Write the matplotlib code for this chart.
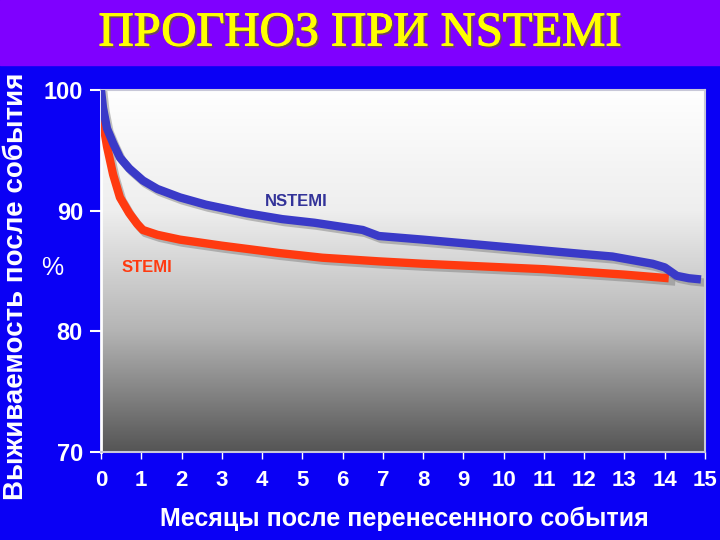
import numpy as np
import matplotlib
matplotlib.use("Agg")
import matplotlib.pyplot as plt
import matplotlib.patheffects as pe
from matplotlib.patches import Rectangle

# survival curves (months, %)
nstemi_months = [0, 0.05, 0.15, 0.3, 0.47, 0.7, 1.04, 1.4, 1.96, 2.6, 3.6, 4.5, 5.3, 6.1, 6.5, 6.9, 8, 9, 10, 11, 12, 12.7, 13.2, 13.7, 14.0, 14.3, 14.6, 14.9]
nstemi_surv = [100, 98.5, 96.8, 95.6, 94.4, 93.5, 92.5, 91.8, 91.1, 90.5, 89.8, 89.3, 89.0, 88.6, 88.4, 87.9, 87.6, 87.3, 87.0, 86.7, 86.4, 86.2, 85.9, 85.6, 85.3, 84.6, 84.4, 84.3]
stemi_months = [0, 0.05, 0.15, 0.3, 0.47, 0.7, 0.9, 1.04, 1.4, 1.96, 3.0, 4.4, 5.5, 6.9, 8, 9, 10, 11, 11.9, 13, 14.1]
stemi_surv = [98.5, 97.3, 95.3, 93.0, 91.1, 89.8, 88.9, 88.4, 88.0, 87.6, 87.1, 86.5, 86.1, 85.8, 85.6, 85.45, 85.3, 85.15, 84.95, 84.7, 84.4]

x_ticks = list(range(0, 16))
y_ticks = [70, 80, 90, 100]

fig = plt.figure(figsize=(7.2, 5.4), dpi=100)
fig.patches.append(Rectangle((0, 0), 1, 1, transform=fig.transFigure, color="#0a00f5", zorder=-10))
fig.patches.append(Rectangle((0, 1 - 65 / 540), 1, 65 / 540, transform=fig.transFigure, color="#7f00ff", zorder=-9))

sans = ["Liberation Sans", "DejaVu Sans"]

# title, yellow serif with a soft shadow
fig.text(0.5, 0.938, "ПРОГНОЗ ПРИ NSTEMI", ha="center", va="center", fontsize=35,
         family=["Liberation Serif", "DejaVu Serif"], color="#ffff00",
         path_effects=[pe.withSimplePatchShadow(offset=(1.5, -1.5), shadow_rgbFace="#6a5a30", alpha=0.8),
                       pe.withStroke(linewidth=0.8, foreground="#ffff00")])

ax = fig.add_axes([101 / 720, 1 - 452 / 540, 604 / 720, 362 / 540])
ax.set_xlim(0, 15)
ax.set_ylim(70, 100)

grad = np.linspace(0, 1, 256).reshape(-1, 1)
cmap = matplotlib.colors.LinearSegmentedColormap.from_list("bg", ["#ffffff", "#eeeeee", "#b4b4b4", "#555555"])
ax.imshow(grad, cmap=cmap, extent=[0, 15, 70, 100], aspect="auto", zorder=0)

# shadows then curves
ax.plot(np.array(nstemi_months) + 0.06, np.array(nstemi_surv) - 0.25, color="#777777", lw=6, alpha=0.45, zorder=2)
ax.plot(np.array(stemi_months) + 0.06, np.array(stemi_surv) - 0.25, color="#777777", lw=6, alpha=0.45, zorder=2)
ax.plot(stemi_months, stemi_surv, color="#ff3a10", lw=6, solid_capstyle="butt", zorder=3)
ax.plot(nstemi_months, nstemi_surv, color="#3a3ac8", lw=6, solid_capstyle="butt", zorder=4)

ax.text(4.07, 90.8, "NSTEMI", color="#333399", fontsize=12, weight="bold", family=sans, va="center")
ax.text(0.52, 85.3, "STEMI", color="#ff3a10", fontsize=12, weight="bold", family=sans, va="center")

ax.set_xticks(x_ticks)
ax.set_yticks(y_ticks)
ax.set_xticklabels([str(t) for t in x_ticks])
ax.tick_params(axis="x", colors="white", length=5, width=1, pad=8, labelsize=16)
ax.tick_params(axis="y", colors="white", length=8, width=1.5, pad=5, labelsize=17)
for lab in ax.get_xticklabels() + ax.get_yticklabels():
    lab.set_family(sans)
    lab.set_weight("bold")

for side in ["top", "right", "bottom"]:
    ax.spines[side].set_color("#c8c8d8")
    ax.spines[side].set_linewidth(1.5)
ax.spines["left"].set_color("white")
ax.spines["left"].set_linewidth(2)

fig.text(404 / 720, 0.04, "Месяцы после перенесенного события", ha="center", va="center",
         fontsize=18, weight="bold", color="white", family=sans)
fig.text(0.022, 0.47, "Выживаемость после события", ha="center", va="center", rotation=90,
         fontsize=20, weight="bold", color="white", family=sans)
fig.text(0.072, 0.503, "%", ha="center", va="center", fontsize=18, color="white", family=sans)

fig.savefig("out.png", dpi=100)
